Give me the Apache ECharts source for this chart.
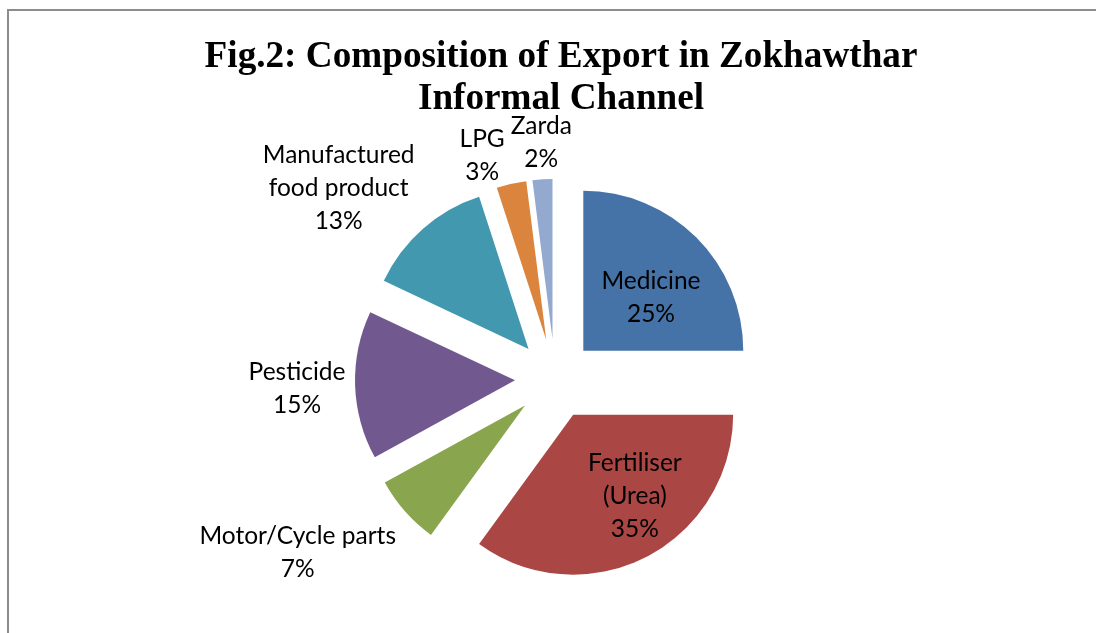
<!DOCTYPE html>
<html>
<head>
<meta charset="utf-8">
<script src="https://cdn.jsdelivr.net/npm/echarts@6/dist/echarts.min.js"></script>
<style>
  html, body { margin: 0; padding: 0; background: #fff; }
  #frame {
    position: absolute; left: 7px; top: 9px;
    width: 1200px; height: 800px;
    border: 2px solid #8c8c8c;
  }
  #main { position: absolute; left: 0; top: 0; width: 1096px; height: 633px; }
</style>
</head>
<body>
<div id="frame"></div>
<div id="main"></div>
<script>
// data
const categories = ["Medicine", "Fertiliser\n(Urea)", "Motor/Cycle parts", "Pesticide", "Manufactured\nfood product", "LPG", "Zarda"];
const shares = [25, 35, 7, 15, 13, 3, 2];
const sliceColors = ["#4572A7", "#AA4643", "#89A54E", "#71588F", "#4198AF", "#DB843D", "#93A9CF"];

// label nudges from the default inside spot (Excel "best fit" look)
const labelShift = [
  [9, 6], [24, 7], [-165, 92], [-135, 6], [-135, -99], [-46, -103], [-6, -114]
];

var myChart = echarts.init(document.getElementById("main"), null, { renderer: "canvas" });

var pieData = categories.map(function (name, i) {
  return {
    name: name,
    value: shares[i],
    selected: true,
    itemStyle: { color: sliceColors[i] },
  };
});

var option = {
  animation: false,
  title: {
    text: "Fig.2: Composition of Export in Zokhawthar\nInformal Channel",
    left: 556,
    textAlign: "center",
    top: 31,
    textStyle: {
      fontFamily: "Liberation Serif",
      fontWeight: "bold",
      fontSize: 37.2,
      lineHeight: 42,
      color: "#000",
    },
  },
  series: [
    {
      type: "pie",
      center: [555, 379],
      radius: 160,
      startAngle: 90,
      clockwise: true,
      selectedMode: "multiple",
      selectedOffset: 40,
      avoidLabelOverlap: false,
      label: {
        show: true,
        position: "inside",
        formatter: "{b}\n{d}%",
        fontFamily: "Lato",
        fontSize: 24.5,
        lineHeight: 33,
        color: "#000",
        align: "center",
      },
      labelLine: { show: false },
      labelLayout: function (params) {
        var s = labelShift[params.dataIndex];
        return { dx: s[0], dy: s[1] };
      },
      emphasis: { disabled: true },
      select: { itemStyle: { borderWidth: 0 } },
      data: pieData,
    },
  ],
};

myChart.setOption(option);
</script>
</body>
</html>
